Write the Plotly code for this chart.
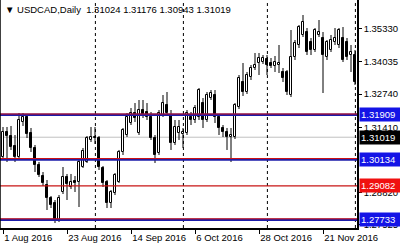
import plotly.graph_objects as go
import pandas as pd

# ---- data -------------------------------------------------------------
dates = [d.strftime("%Y-%m-%d") for d in pd.bdate_range("2016-08-01", periods=89)]

opens = [1.30231, 1.31226, 1.31067, 1.30669, 1.30231, 1.31625, 1.31824, 1.31187, 1.30590, 1.29912,
         1.29474, 1.29115, 1.28597, 1.28398, 1.27720, 1.28836, 1.29434, 1.29035, 1.29274, 1.29234,
         1.29832, 1.30032, 1.30909, 1.30987, 1.30987, 1.29793, 1.29234, 1.28398, 1.28796, 1.29234,
         1.30430, 1.31107, 1.31585, 1.31983, 1.31187, 1.32103, 1.32023, 1.31824, 1.30987, 1.30390,
         1.31904, 1.32302, 1.31904, 1.30789, 1.31187, 1.31147, 1.31187, 1.31824, 1.31705, 1.31824,
         1.32381, 1.31705, 1.32581, 1.32700, 1.31824, 1.31386, 1.31226, 1.31027, 1.31027, 1.32222,
         1.33218, 1.32820, 1.33417, 1.33776, 1.33975, 1.34015, 1.34134, 1.33975, 1.33856, 1.33895,
         1.33617, 1.33617, 1.32700, 1.34214, 1.34692, 1.35091, 1.35210, 1.34812, 1.34493, 1.35091,
         1.34971, 1.34214, 1.34493, 1.34812, 1.34692, 1.34971, 1.34812, 1.34294, 1.34294]
highs = [1.31426, 1.31426, 1.31466, 1.31107, 1.31983, 1.31983, 1.31943, 1.31386, 1.30709, 1.30032,
         1.29633, 1.29314, 1.28676, 1.28517, 1.28716, 1.29832, 1.29554, 1.29554, 1.29474, 1.30111,
         1.30590, 1.31067, 1.31426, 1.31426, 1.31067, 1.29872, 1.29314, 1.28915, 1.29593, 1.30510,
         1.31386, 1.31983, 1.32182, 1.32381, 1.32501, 1.32501, 1.32381, 1.32023, 1.31107, 1.32103,
         1.32700, 1.32820, 1.32103, 1.31705, 1.31705, 1.31386, 1.32103, 1.32023, 1.32302, 1.32979,
         1.32581, 1.32820, 1.32899, 1.32899, 1.31943, 1.31505, 1.31386, 1.31386, 1.32381, 1.33497,
         1.33975, 1.33617, 1.33895, 1.34374, 1.34374, 1.34294, 1.34294, 1.34174, 1.34254, 1.34692,
         1.33776, 1.33696, 1.35290, 1.34891, 1.35489, 1.35887, 1.35369, 1.34971, 1.35369, 1.35688,
         1.35210, 1.34891, 1.35091, 1.35369, 1.35369, 1.35409, 1.34971, 1.34692, 1.34493]
lows = [1.30111, 1.30032, 1.30510, 1.30032, 1.30151, 1.31466, 1.30987, 1.30430, 1.29633, 1.29434,
        1.29075, 1.28119, 1.28198, 1.27600, 1.27640, 1.28756, 1.28517, 1.28955, 1.28836, 1.28238,
        1.29793, 1.29992, 1.30828, 1.30749, 1.29713, 1.29035, 1.28198, 1.28198, 1.28716, 1.29195,
        1.30310, 1.31027, 1.31505, 1.31625, 1.31107, 1.31784, 1.31705, 1.30909, 1.29992, 1.30310,
        1.31824, 1.31904, 1.30510, 1.30709, 1.30909, 1.30590, 1.31107, 1.31505, 1.31585, 1.31705,
        1.31386, 1.31625, 1.32501, 1.31585, 1.31107, 1.31027, 1.30510, 1.30032, 1.30947, 1.32142,
        1.32660, 1.32740, 1.33298, 1.33696, 1.33497, 1.33935, 1.33497, 1.33776, 1.33617, 1.33577,
        1.33218, 1.32700, 1.32620, 1.34095, 1.34573, 1.35011, 1.34294, 1.34294, 1.34413, 1.35011,
        1.32780, 1.34095, 1.34413, 1.34692, 1.34573, 1.34015, 1.34095, 1.33617, 1.33099]
closes = [1.31226, 1.31067, 1.30630, 1.30231, 1.31705, 1.31824, 1.31147, 1.30590, 1.29912, 1.29514,
          1.29195, 1.28597, 1.28318, 1.27720, 1.28597, 1.29434, 1.29155, 1.29234, 1.29195, 1.30032,
          1.30470, 1.30987, 1.31027, 1.31027, 1.29832, 1.29195, 1.28398, 1.28836, 1.29514, 1.30430,
          1.31306, 1.31824, 1.31983, 1.31784, 1.32103, 1.31904, 1.31824, 1.30987, 1.30310, 1.31983,
          1.32381, 1.31983, 1.30789, 1.31426, 1.31426, 1.31226, 1.31983, 1.31705, 1.32182, 1.32899,
          1.31705, 1.32700, 1.32780, 1.31824, 1.31386, 1.31226, 1.31027, 1.31107, 1.32302, 1.33378,
          1.32820, 1.33497, 1.33776, 1.33895, 1.34174, 1.34174, 1.33895, 1.33856, 1.34015, 1.33975,
          1.33378, 1.32820, 1.34214, 1.34772, 1.35409, 1.35609, 1.34413, 1.34493, 1.35290, 1.35210,
          1.34294, 1.34812, 1.34891, 1.34971, 1.35290, 1.34095, 1.34214, 1.34413, 1.33218]

blue_levels = [1.31909, 1.30134, 1.27733]
red_levels = [1.29082]
bid_price = 1.31019
axis_ticks = [1.35330, 1.34035, 1.32740, 1.31410, 1.28820, 1.27525]
date_tick_idx = [0, 16, 32, 48, 64, 80]
title_text = "USDCAD,Daily  1.31024 1.31176 1.30943 1.31019"

# ---- figure -------------------------------------------------------------
FONT = "Liberation Sans, Arial, sans-serif"
fig = go.Figure()

# wicks (upper and lower parts only, so they never cross a body)
wx, wy = [], []
for d, o, h, l, c in zip(dates, opens, highs, lows, closes):
    top, bot = max(o, c), min(o, c)
    wx += [d, d, None, d, d, None]
    wy += [h, top, None, bot, l, None]
fig.add_trace(go.Scatter(x=wx, y=wy, mode="lines", line=dict(color="black", width=1),
                         hoverinfo="skip", showlegend=False))

# bodies
for up in (True, False):
    xs, base, size = [], [], []
    for d, o, c in zip(dates, opens, closes):
        if (c >= o) == up:
            xs.append(d)
            base.append(min(o, c))
            size.append(max(abs(c - o), 0.00008))
    fig.add_trace(go.Bar(x=xs, y=size, base=base, width=0.55,
                         marker=dict(color="white" if up else "black",
                                     line=dict(color="black", width=1)),
                         hoverinfo="skip", showlegend=False))

shapes = []
shapes.append(dict(type="line", xref="paper", x0=0, x1=1, yref="y", y0=bid_price, y1=bid_price,
                   line=dict(color="#c0c0c0", width=1), layer="below"))
month_starts = [i for i in range(1, len(dates)) if dates[i][5:7] != dates[i - 1][5:7]]
for i in month_starts:
    shapes.append(dict(type="line", xref="x", x0=i + 0.1, x1=i + 0.1, yref="paper", y0=0, y1=1,
                       line=dict(color="black", width=1, dash="3px,3px")))
for lv in blue_levels:
    shapes.append(dict(type="line", xref="paper", x0=0, x1=1, yref="y", y0=lv, y1=lv,
                       line=dict(color="#1c1caa", width=2.5)))
    shapes.append(dict(type="line", xref="paper", x0=0, x1=1, yref="y", y0=lv + 0.00035, y1=lv + 0.00035,
                       line=dict(color="#d01010", width=1)))
for lv in red_levels:
    shapes.append(dict(type="line", xref="paper", x0=0, x1=1, yref="y", y0=lv, y1=lv,
                       line=dict(color="#c81414", width=1.2)))
shapes.append(dict(type="line", xref="paper", x0=0, x1=0, yref="paper", y0=0, y1=1,
                   line=dict(color="black", width=1.5)))

annotations = [dict(text="▼ " + title_text, xref="paper", yref="paper", x=0, y=1,
                    xanchor="left", yanchor="top", xshift=3, yshift=-2, showarrow=False,
                    font=dict(family=FONT, size=9.5, color="black"))]
for lv, bg in [(blue_levels[0], "#1414e6"), (bid_price, "black"), (blue_levels[1], "#1414e6"),
               (red_levels[0], "#f01010"), (blue_levels[2], "#1414e6")]:
    annotations.append(dict(text=f"{lv:.5f}", xref="paper", yref="y", x=1, y=lv,
                            xanchor="left", yanchor="middle", xshift=2, showarrow=False,
                            bgcolor=bg, borderpad=1, width=38, align="left",
                            font=dict(family=FONT, size=9.5, color="white")))

fig.update_layout(
    width=400, height=250,
    margin=dict(l=0, r=43, t=0, b=22),
    paper_bgcolor="white", plot_bgcolor="white",
    barmode="overlay", bargap=0,
    shapes=shapes, annotations=annotations,
    xaxis=dict(type="category", categoryorder="array", categoryarray=dates,
               range=[-0.75, len(dates) - 0.5],
               showgrid=False, showline=True, linecolor="black", linewidth=1.5,
               ticks="outside", ticklen=4, tickcolor="black",
               tickvals=[dates[i] for i in date_tick_idx],
               ticktext=[pd.Timestamp(dates[i]).strftime("%-d %b %Y") for i in date_tick_idx],
               ticklabelposition="outside right",
               tickfont=dict(family=FONT, size=9.5, color="black")),
    yaxis=dict(side="right", range=[1.27402, 1.36485], showgrid=False, zeroline=False,
               showline=True, linecolor="black", linewidth=1.5,
               ticks="outside", ticklen=3, tickcolor="black",
               tickvals=axis_ticks, ticktext=[f"{v:.5f}" for v in axis_ticks],
               tickfont=dict(family=FONT, size=9.5, color="black")),
)
fig.write_html("out.html")
